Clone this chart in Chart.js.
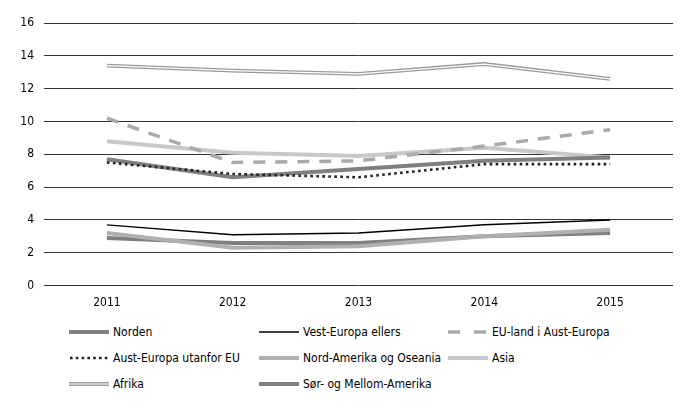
<!DOCTYPE html>
<html>
<head>
<meta charset="utf-8">
<script src="https://cdn.jsdelivr.net/npm/chart.js@4"></script>
<style>
  html, body { margin:0; padding:0; background:#fff; }
  body { width:694px; height:410px; position:relative; overflow:hidden;
         font-family:'Liberation Sans Narrow','DejaVu Sans Condensed','Noto Sans',sans-serif; }
  #wrap { position:absolute; left:0; top:0; width:694px; height:320px; }
  .lg { position:absolute; display:flex; align-items:center; font-size:12px; color:#000; height:16px; white-space:nowrap; }
  .lg svg { display:block; margin-right:4px; }
</style>
</head>
<body>
<div id="wrap"><canvas id="c"></canvas></div>
<div id="legend"></div>
<script>
const years = ['2011', '2012', '2013', '2014', '2015'];
const yTicks = [0, 2, 4, 6, 8, 10, 12, 14, 16];
const seriesNames = ['Norden', 'Vest-Europa ellers', 'EU-land i Aust-Europa',
  'Aust-Europa utanfor EU', 'Nord-Amerika og Oseania', 'Asia', 'Afrika', 'Sør- og Mellom-Amerika'];
const norden = [7.7, 6.6, 7.1, 7.6, 7.8];
const vestEuropa = [3.7, 3.1, 3.2, 3.7, 4.0];
const euAustEuropa = [10.2, 7.5, 7.6, 8.5, 9.5];
const austEuropaUtanfor = [7.5, 6.8, 6.6, 7.4, 7.4];
const nordAmerika = [3.2, 2.3, 2.4, 3.0, 3.4];
const asia = [8.8, 8.1, 7.9, 8.4, 7.8];
const afrika = [13.4, 13.1, 12.9, 13.5, 12.6];
const sorMellomAmerika = [2.9, 2.6, 2.6, 3.0, 3.2];

const base = { fill:false, pointRadius:0, pointHoverRadius:0, tension:0, borderCapStyle:'butt' };
const datasets = [
  Object.assign({}, base, { label:seriesNames[6], data:afrika, borderColor:'#ffffff', borderWidth:1.2, order:0 }),
  Object.assign({}, base, { label:seriesNames[6] + ' ', data:afrika, borderColor:'#9a9a9a', borderWidth:3.8, order:1 }),
  Object.assign({}, base, { label:seriesNames[3], data:austEuropaUtanfor, borderColor:'#222222', borderWidth:2.6, borderDash:[2.6,3.4], order:2 }),
  Object.assign({}, base, { label:seriesNames[0], data:norden, borderColor:'#7f7f7f', borderWidth:4, order:3 }),
  Object.assign({}, base, { label:seriesNames[2], data:euAustEuropa, borderColor:'#aaaaaa', borderWidth:3.5, borderDash:[12,10], order:4 }),
  Object.assign({}, base, { label:seriesNames[5], data:asia, borderColor:'#c8c8c8', borderWidth:4, order:5 }),
  Object.assign({}, base, { label:seriesNames[1], data:vestEuropa, borderColor:'#000000', borderWidth:1.5, order:6 }),
  Object.assign({}, base, { label:seriesNames[4], data:nordAmerika, borderColor:'#b0b0b0', borderWidth:4, order:7 }),
  Object.assign({}, base, { label:seriesNames[7], data:sorMellomAmerika, borderColor:'#808080', borderWidth:4, order:8 })
];

const fontFam = "'Liberation Sans Narrow','DejaVu Sans Condensed','Noto Sans',sans-serif";
new Chart(document.getElementById('c'), {
  type:'line',
  data:{ labels:years, datasets:datasets },
  options:{
    responsive:true, maintainAspectRatio:false, animation:false,
    layout:{ padding:{ left:0, right:21, top:23, bottom:0 } },
    plugins:{ legend:{ display:false }, tooltip:{ enabled:false } },
    scales:{
      x:{ offset:true,
          grid:{ display:false, drawTicks:false },
          border:{ display:false },
          ticks:{ color:'#000', font:{ family:fontFam, size:12 }, padding:10 } },
      y:{ min:0, max:16,
          afterBuildTicks:(s)=>{ s.ticks = yTicks.map(v=>({value:v})); },
          afterFit:(s)=>{ s.width = 44; },
          grid:{ color:'#333333', lineWidth:1, drawTicks:false },
          border:{ display:false },
          ticks:{ color:'#000', font:{ family:fontFam, size:12 }, padding:10 } }
    }
  }
});

// HTML legend
const legendItems = [
  { name:seriesNames[0], x:69, y:332, svg:'<line x1="0" y1="5" x2="40" y2="5" stroke="#7f7f7f" stroke-width="4"/>' },
  { name:seriesNames[1], x:259, y:332, svg:'<line x1="0" y1="5" x2="40" y2="5" stroke="#000" stroke-width="1.5"/>' },
  { name:seriesNames[2], x:448, y:332, svg:'<line x1="0" y1="5" x2="40" y2="5" stroke="#aaaaaa" stroke-width="3.5" stroke-dasharray="12,14"/>' },
  { name:seriesNames[3], x:69, y:358, svg:'<line x1="1" y1="5" x2="40" y2="5" stroke="#222" stroke-width="2.6" stroke-dasharray="2.6,3.2"/>' },
  { name:seriesNames[4], x:259, y:358, svg:'<line x1="0" y1="5" x2="40" y2="5" stroke="#b0b0b0" stroke-width="4"/>' },
  { name:seriesNames[5], x:448, y:358, svg:'<line x1="0" y1="5" x2="40" y2="5" stroke="#c8c8c8" stroke-width="4"/>' },
  { name:seriesNames[6], x:69, y:384, svg:'<line x1="0" y1="5" x2="40" y2="5" stroke="#9a9a9a" stroke-width="4"/><line x1="0" y1="5" x2="40" y2="5" stroke="#fff" stroke-width="1.2"/>' },
  { name:seriesNames[7], x:259, y:384, svg:'<line x1="0" y1="5" x2="40" y2="5" stroke="#808080" stroke-width="4"/>' }
];
const lg = document.getElementById('legend');
legendItems.forEach(it => {
  const d = document.createElement('div');
  d.className = 'lg';
  d.style.left = it.x + 'px';
  d.style.top = (it.y - 8) + 'px';
  d.innerHTML = '<svg width="40" height="10">' + it.svg + '</svg><span>' + it.name + '</span>';
  lg.appendChild(d);
});
</script>
</body>
</html>
